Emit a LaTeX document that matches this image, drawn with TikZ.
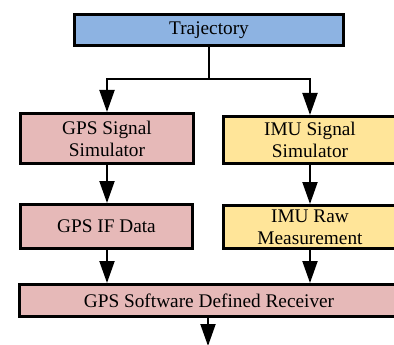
\documentclass[tikz,border=0pt]{standalone}
\usepackage{fontspec}
\setmainfont{Liberation Serif}
\usetikzlibrary{arrows.meta}
\definecolor{trajblue}{HTML}{8DB3E2}
\definecolor{gpspink}{HTML}{E6B9B8}
\definecolor{imuyellow}{HTML}{FFE599}
\begin{document}
\begin{tikzpicture}[x=1pt,y=-1pt,
  box/.style={draw=black, line width=3pt, align=center, inner sep=0pt,
    font=\fontsize{19.3}{22}\selectfont},
  conn/.style={line width=2pt, -{Triangle[length=22pt,width=15pt]}}]
\useasboundingbox (0,0) rectangle (394,345);
\clip (0,0) rectangle (394,345);

% blocks
\node[box, fill=trajblue, minimum width=269pt, minimum height=31pt] (traj) at (209,30) {Trajectory};
\node[box, fill=gpspink, minimum width=173pt, minimum height=50pt] (gpssim) at (107,138.5) {GPS Signal\\Simulator};
\node[box, fill=imuyellow, minimum width=173pt, minimum height=47pt] (imusim) at (310,140) {IMU Signal\\Simulator};
\node[box, fill=gpspink, minimum width=172pt, minimum height=44pt] (gpsif) at (106.5,226.5) {GPS IF Data};
\node[box, fill=imuyellow, minimum width=173pt, minimum height=43pt] (imuraw) at (310,227) {IMU Raw\\Measurement};
\node[box, fill=gpspink, minimum width=379pt, minimum height=32pt] (rx) at (209,300.5) {GPS Software Defined Receiver};

% connectors
\coordinate (split) at (209,79);
\coordinate (out) at (208,346);
\draw[line width=2pt] (traj.south) -- (split);
\draw[conn] (split) -| (gpssim.north);
\draw[conn] (split) -| (imusim.north);
\draw[conn] (gpssim.south) -- (gpssim.south |- gpsif.north);
\draw[conn] (imusim.south) -- (imuraw.north);
\draw[conn] (gpssim.south |- gpsif.south) -- (gpssim.south |- rx.north);
\draw[conn] (imuraw.south) -- (imuraw.south |- rx.north);
\draw[conn] (out |- rx.south) -- (out);
\end{tikzpicture}
\end{document}
